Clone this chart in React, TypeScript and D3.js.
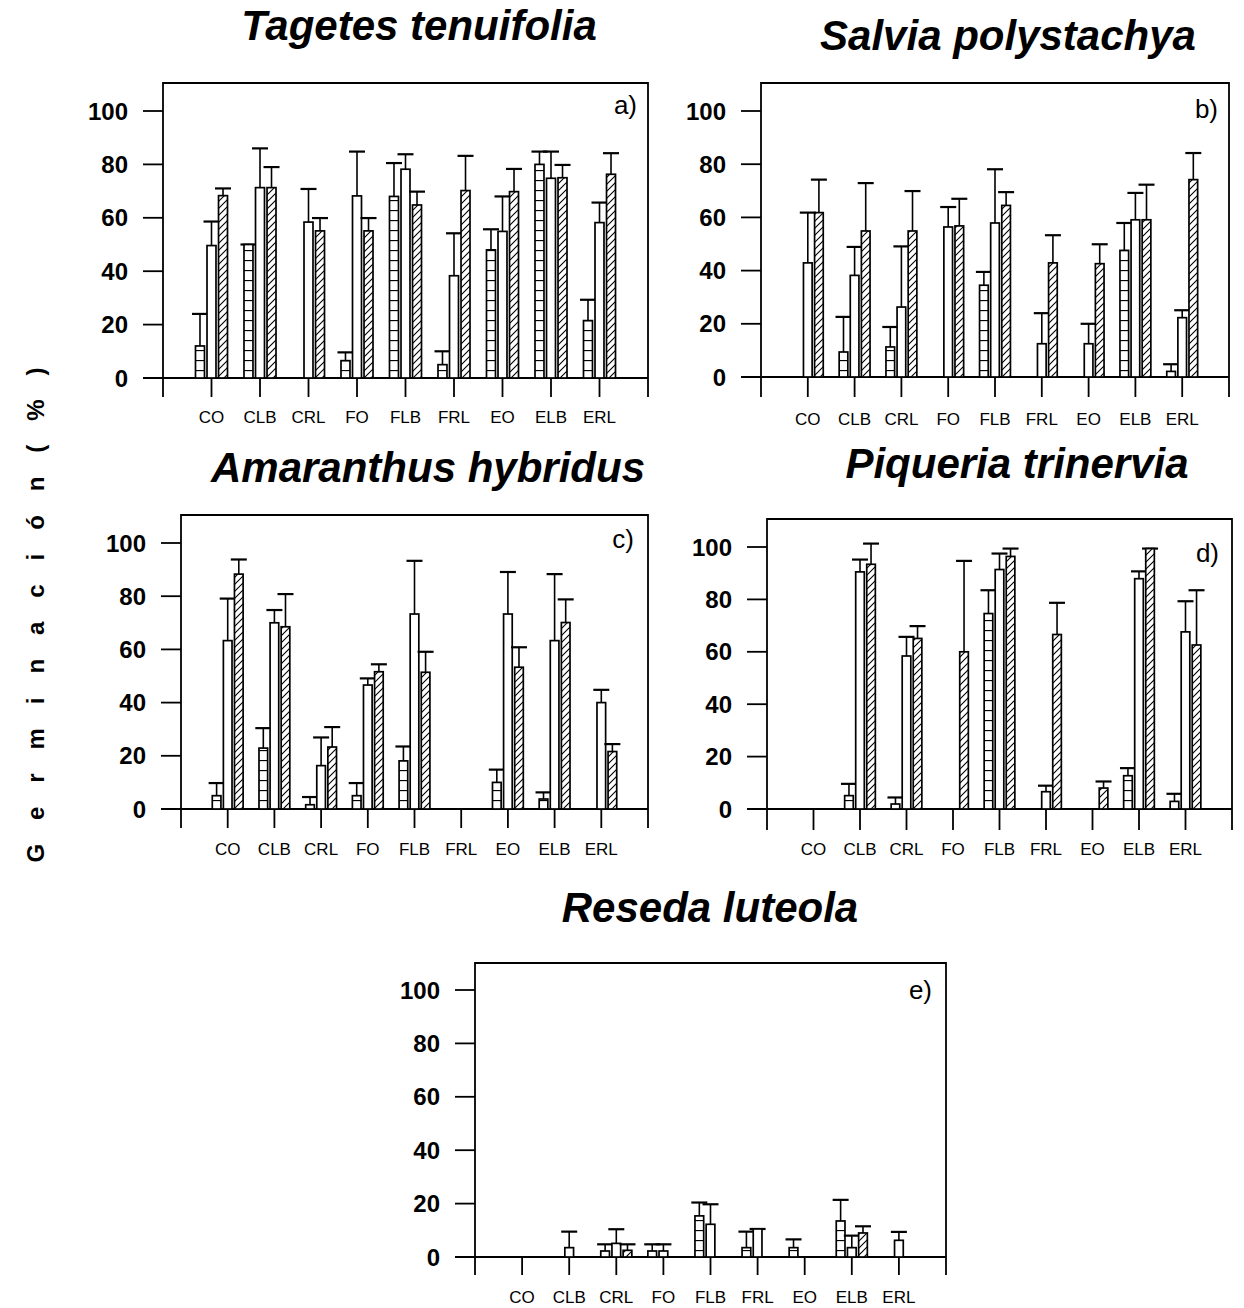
import React from "react";
import * as d3 from "d3";

const categories = ["CO", "CLB", "CRL", "FO", "FLB", "FRL", "EO", "ELB", "ERL"];
const yTicks = [0, 20, 40, 60, 80, 100];
const seriesKeys = ["squares", "open", "hatched"];

// each panel: [squares, open, hatched] means and the top of the error bar
const tagetesMean = [
  [12, 50, 0, 6.5, 68, 5, 48, 80, 21.5],
  [49.6, 71.3, 58.4, 68.2, 78.2, 38.3, 54.9, 74.8, 58.2],
  [68.3, 71.3, 55.1, 55.1, 64.8, 70.2, 69.8, 75, 76.3],
];
const tagetesErr = [
  [24, 50, 0, 9.6, 80.5, 10, 55.7, 84.8, 29.3],
  [58.6, 86, 70.8, 84.8, 83.8, 54.2, 68, 84.8, 65.7],
  [71, 79, 59.9, 59.9, 69.8, 83.2, 78.3, 79.8, 84.2],
];

const salviaMean = [
  [0, 9.4, 11.3, 0, 34.5, 0, 0, 47.6, 2.1],
  [42.9, 38.2, 26.3, 56.4, 57.9, 12.5, 12.5, 59.1, 22.3],
  [61.8, 54.9, 54.9, 56.8, 64.5, 42.9, 42.6, 59.1, 74.2],
];
const salviaErr = [
  [0, 22.6, 18.8, 0, 39.5, 0, 0, 57.9, 4.8],
  [61.8, 48.9, 49.1, 63.9, 78.1, 24, 20, 69.2, 25.1],
  [74.2, 72.9, 69.9, 67, 69.5, 53.3, 49.9, 72.3, 84.2],
];

const amaranthusMean = [
  [5, 22.9, 1.6, 5, 18.1, 0, 10, 3.75, 0],
  [63.3, 70, 16.3, 46.6, 73.3, 0, 73.3, 63.3, 40],
  [88.3, 68.5, 23.3, 51.6, 51.4, 0, 53.3, 70.1, 21.6],
];
const amaranthusErr = [
  [9.75, 30.4, 4.5, 9.75, 23.5, 0, 14.8, 6.25, 0],
  [79.1, 74.8, 26.9, 49.1, 93.3, 0, 89.1, 88.3, 44.8],
  [93.8, 80.8, 30.8, 54.4, 59.1, 0, 60.8, 78.8, 24.4],
];

const piqueriaMean = [
  [0, 5.1, 1.9, 0, 74.6, 0, 0, 12.7, 2.9],
  [0, 90.5, 58.4, 0, 91.4, 6.6, 0, 87.9, 67.6],
  [0, 93.4, 65.1, 60, 96.4, 66.6, 8, 99.4, 62.6],
];
const piqueriaErr = [
  [0, 9.6, 4.4, 0, 83.5, 0, 0, 15.6, 5.8],
  [0, 95.2, 65.7, 0, 97.5, 8.9, 0, 90.7, 79.3],
  [0, 101.3, 69.8, 94.7, 99.4, 78.7, 10.5, 99.4, 83.5],
];

const resedaMean = [
  [0, 0, 2.25, 2.25, 15.4, 3.5, 3.5, 13.5, 0],
  [0, 3.5, 5.1, 2.25, 12.25, 10.5, 0, 3.5, 6.25],
  [0, 0, 2.5, 0, 0, 0, 0, 9, 0],
];
const resedaErr = [
  [0, 0, 4.75, 4.75, 20.4, 9.5, 6.6, 21.4, 0],
  [0, 9.5, 10.4, 4.75, 19.75, 10.5, 0, 8, 9.4],
  [0, 0, 4.75, 0, 0, 0, 0, 11.5, 0],
];

const FONT = "'Liberation Sans', Arial, Helvetica, sans-serif";
const fills = ["url(#sq)", "white", "url(#hatch)"];

type Layout = {
  left: number; right: number; top: number; bottom: number;
  y0: number; y100: number; labelY: number;
  titleX: number; titleY: number; tagDx: number; tagY: number;
};

const layoutA: Layout = { left: 163, right: 648, top: 83, bottom: 397, y0: 378, y100: 111, labelY: 423, titleX: 419, titleY: 40, tagDx: 11, tagY: 114 };
const layoutB: Layout = { left: 761, right: 1229, top: 83, bottom: 397, y0: 377, y100: 111, labelY: 425, titleX: 1008, titleY: 50, tagDx: 11, tagY: 118 };
const layoutC: Layout = { left: 181, right: 648, top: 515, bottom: 828, y0: 809, y100: 543, labelY: 855, titleX: 428, titleY: 482, tagDx: 14, tagY: 548 };
const layoutD: Layout = { left: 767, right: 1232, top: 519, bottom: 830, y0: 809, y100: 547, labelY: 855, titleX: 1017, titleY: 478, tagDx: 13, tagY: 562 };
const layoutE: Layout = { left: 475, right: 946, top: 963, bottom: 1275, y0: 1257, y100: 990, labelY: 1303, titleX: 710, titleY: 922, tagDx: 14, tagY: 999 };

const Panel = (props: { title: string; tag: string; means: number[][]; errs: number[][]; L: Layout }) => {
  const { L, means, errs } = props;
  const x = d3.scaleLinear().domain([0, categories.length + 1]).range([L.left, L.right]);
  const y = d3.scaleLinear().domain([0, 100]).range([L.y0, L.y100]);
  const step = x(1) - x(0);
  const sub = d3.scaleBand<string>().domain(seriesKeys).range([-0.33 * step, 0.33 * step]).paddingInner(0.22);
  const bw = sub.bandwidth();
  const capHalf = 8;

  return (
    <g>
      <text x={L.titleX} y={L.titleY} textAnchor="middle" fontSize={42} fontWeight="bold" fontStyle="italic" fontFamily={FONT}>
        {props.title}
      </text>
      {/* frame, open at the bottom */}
      <path d={`M${L.left},${L.bottom}V${L.top}H${L.right}V${L.bottom}`} fill="none" stroke="black" strokeWidth={1.8} />
      <line x1={L.left - 20} x2={L.right} y1={y(0)} y2={y(0)} stroke="black" strokeWidth={1.8} />
      {yTicks.map((t) => (
        <g key={t}>
          <line x1={L.left - 20} x2={L.left} y1={y(t)} y2={y(t)} stroke="black" strokeWidth={1.8} />
          <text x={L.left - 35} y={y(t)} dy="0.36em" textAnchor="end" fontSize={24} fontWeight="bold" fontFamily={FONT}>
            {t}
          </text>
        </g>
      ))}
      {categories.map((c, i) => (
        <g key={c}>
          <line x1={x(i + 1)} x2={x(i + 1)} y1={y(0)} y2={L.bottom} stroke="black" strokeWidth={1.8} />
          <text x={x(i + 1)} y={L.labelY} textAnchor="middle" fontSize={17} fontFamily={FONT}>
            {c}
          </text>
        </g>
      ))}
      {means.map((vals, s) =>
        vals.map((v, i) => {
          if (v <= 0) return null;
          const cx = x(i + 1) + (sub(seriesKeys[s]) as number) + bw / 2;
          const e = errs[s][i];
          return (
            <g key={`${s}-${i}`}>
              <line x1={cx} x2={cx} y1={y(v)} y2={y(e)} stroke="black" strokeWidth={1.6} />
              <line x1={cx - capHalf} x2={cx + capHalf} y1={y(e)} y2={y(e)} stroke="black" strokeWidth={2.2} />
              <rect x={cx - bw / 2} y={y(v)} width={bw} height={y(0) - y(v)} fill={fills[s]} stroke="black" strokeWidth={1.7} />
            </g>
          );
        })
      )}
      <text x={L.right - L.tagDx} y={L.tagY} textAnchor="end" fontSize={26} fontFamily={FONT}>
        {props.tag}
      </text>
    </g>
  );
};

export default function App() {
  return (
    <svg width={1244} height={1308} style={{ position: "absolute", left: 0, top: 0, background: "white" }}>
      <defs>
        <pattern id="sq" width={10} height={10} patternUnits="userSpaceOnUse">
          <rect width={10} height={10} fill="white" />
          <line x1={0} x2={10} y1={0.5} y2={0.5} stroke="black" strokeWidth={1.3} />
        </pattern>
        <pattern id="hatch" width={7} height={7} patternUnits="userSpaceOnUse">
          <rect width={7} height={7} fill="white" />
          <path d="M0,7L7,0M-1,1L1,-1M6,8L8,6" stroke="black" strokeWidth={1.1} />
        </pattern>
      </defs>
      <rect width={1244} height={1308} fill="white" />
      <Panel title="Tagetes tenuifolia" tag="a)" means={tagetesMean} errs={tagetesErr} L={layoutA} />
      <Panel title="Salvia polystachya" tag="b)" means={salviaMean} errs={salviaErr} L={layoutB} />
      <Panel title="Amaranthus hybridus" tag="c)" means={amaranthusMean} errs={amaranthusErr} L={layoutC} />
      <Panel title="Piqueria trinervia" tag="d)" means={piqueriaMean} errs={piqueriaErr} L={layoutD} />
      <Panel title="Reseda luteola" tag="e)" means={resedaMean} errs={resedaErr} L={layoutE} />
      <text
        transform="translate(44,615) rotate(-90)"
        textAnchor="middle"
        fontSize={24}
        fontWeight="bold"
        fontFamily={FONT}
        textLength={495}
        lengthAdjust="spacing"
      >
        G e r m i n a c i ó n   ( % )
      </text>
    </svg>
  );
}
